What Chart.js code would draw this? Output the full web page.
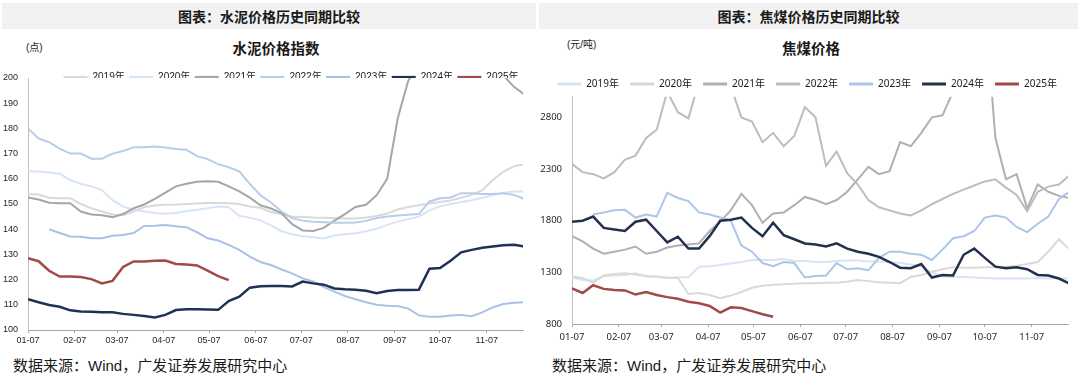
<!DOCTYPE html>
<html>
<head>
<meta charset="utf-8">
<script src="https://cdn.jsdelivr.net/npm/chart.js@4.4.1/dist/chart.umd.min.js"></script>
<style>
  body {
    margin: 0;
    width: 1080px;
    height: 377px;
    background: #fff;
    position: relative;
    overflow: hidden;
    font-family: "Liberation Sans", "Noto Sans CJK SC", sans-serif;
    color: #1a1a1a;
  }
  .band {
    position: absolute;
    top: 3px;
    height: 26px;
    line-height: 26px;
    background: #f2f2f2;
    text-align: center;
    font-family: "Noto Sans CJK SC", sans-serif;
    font-weight: bold;
    font-size: 14px;
  }
  .unit {
    position: absolute;
    font-size: 10px;
    line-height: 12px;
  }
  .subtitle {
    position: absolute;
    width: 200px;
    margin-left: -100px;
    text-align: center;
    font-family: "Noto Sans CJK SC", sans-serif;
    font-weight: bold;
    font-size: 14.5px;
    line-height: 18px;
  }
  .source {
    position: absolute;
    top: 356px;
    font-size: 15px;
    line-height: 19px;
  }
  .panel {
    position: absolute;
    top: 60px;
    height: 290px;
  }
</style>
</head>
<body>

<div class="band" style="left:2px;width:534px;">图表：水泥价格历史同期比较</div>
<div class="band" style="left:539px;width:539px;">图表：焦煤价格历史同期比较</div>

<div class="unit" style="left:26px;top:42px;">(点)</div>
<div class="subtitle" style="left:276px;top:39px;">水泥价格指数</div>
<div class="unit" style="left:567px;top:39px;">(元/吨)</div>
<div class="subtitle" style="left:811px;top:39px;">焦煤价格</div>

<div class="panel" style="left:0;width:536px;"><canvas id="cement" width="536" height="290"></canvas></div>
<div class="panel" style="left:540px;width:540px;"><canvas id="coal" width="540" height="290"></canvas></div>

<div class="source" style="left:13px;">数据来源：Wind，广发证券发展研究中心</div>
<div class="source" style="left:552px;">数据来源：Wind，广发证券发展研究中心</div>

<script>
  // One value every 7 days, day 0 = 01-07.
  var dayStep = 7;
  var lastDay = 328;

  var tickDays = [0, 31, 59, 90, 120, 151, 181, 212, 243, 273, 304];
  var tickLabels = ['01-07', '02-07', '03-07', '04-07', '05-07', '06-07',
    '07-07', '08-07', '09-07', '10-07', '11-07'];
  var years = ['2019年', '2020年', '2021年', '2022年', '2023年', '2024年', '2025年'];

  // 水泥价格指数 (点).
  var cementTicks = [100, 110, 120, 130, 140, 150, 160, 170, 180, 190, 200];
  var cement2019 = [154, 153.8, 152.5, 152.3, 152.3, 150, 148.3, 147, 145.8, 145.5, 147, 148.8, 149.4, 149.7, 149.8, 150, 150.2, 150.4, 150.4, 150.3, 150, 149, 148.5, 146.8, 145.8, 145, 144.8, 144.6, 144.5, 144.4, 144.2, 144.2, 144.6, 145.2, 146.2, 147.8, 148.8, 149.5, 150.2, 150.8, 151.4, 152.5, 153.6, 155.5, 159.5, 162.8, 165, 165.8];
  var cement2020 = [163, 162.9, 162.5, 162, 159.5, 158, 157, 155.5, 151.5, 149, 147.7, 147, 146.4, 146.1, 146.4, 147.2, 147.7, 148.3, 149, 148.7, 145.3, 144.6, 143.5, 141.5, 139.2, 138, 137.2, 136.8, 136.3, 137.5, 138, 138.4, 139.2, 140.2, 141.7, 143, 144, 145, 147.5, 149, 150, 150.8, 151.5, 152.5, 153.6, 154.4, 155, 155];
  var cement2021 = [152.6, 151.8, 150.5, 150.3, 150.3, 147, 145.8, 145.5, 144.8, 146, 148.3, 149.8, 152, 154.5, 157, 158, 158.8, 159, 158.8, 157, 155, 152.5, 149.5, 148.2, 146.4, 142, 139.5, 139.3, 140.5, 143.4, 146, 148.8, 149.7, 153.5, 160, 184, 199, 205, 215, 224, 228, 226, 220, 214, 208, 201, 196.5, 193.4];
  var cement2022 = [180, 176, 174.5, 172, 170, 170, 168, 168, 170, 171, 172.5, 172.5, 172.8, 172.4, 171.8, 171.5, 169, 167.8, 165.8, 164.6, 163, 158, 153.5, 150.6, 147, 144.4, 143.4, 143, 142.8, 142.6, 142.6, 142.7, 143.3, 144.4, 145, 145.4, 145.7, 146, 151, 152.3, 152.6, 154.3, 154.3, 154, 154, 154.3, 153.6, 152];
  var cement2023 = [null, null, 140, 138.5, 137.1, 137, 136.4, 136.4, 137.4, 137.7, 138.5, 141.3, 141.4, 141.7, 141.2, 140.8, 138.8, 136.4, 135.5, 133.8, 131.8, 129.1, 127, 125.8, 124, 122.5, 120.5, 119.3, 117, 115.2, 113.5, 112.2, 111, 110, 109.6, 109.5, 108.5, 105.8, 105.3, 105.3, 105.8, 106, 105.5, 107, 109, 110.3, 110.8, 111];
  var cement2024 = [112.2, 111, 109.9, 109.2, 107.8, 107.3, 107.2, 107, 107, 106.4, 106, 105.6, 105, 106, 107.9, 108.2, 108.2, 108.1, 108, 111.5, 113.2, 116.8, 117.4, 117.5, 117.5, 117.3, 119.2, 118.5, 118, 116.5, 116.2, 116, 115.6, 114.6, 115.5, 115.9, 115.9, 116, 124.3, 124.6, 127.5, 130.8, 131.8, 132.6, 133.1, 133.6, 133.8, 133.1];
  var cement2025 = [128.5, 127.3, 123.5, 121.2, 121.2, 121, 120.2, 118.5, 119.5, 125, 127.2, 127.2, 127.5, 127.6, 126.2, 126, 125.6, 123.6, 121.4, 119.8];

  // 焦煤价格 (元/吨).
  var coalTicks = [800, 1300, 1800, 2300, 2800];
  var coal2019 = [1250, 1225, 1220, 1265, 1270, 1275, 1290, 1260, 1255, 1245, 1250, 1255, 1355, 1360, 1370, 1385, 1400, 1420, 1420, 1420, 1430, 1410, 1410, 1400, 1400, 1410, 1415, 1415, 1405, 1405, 1400, 1390, 1375, 1360, 1300, 1260, 1255, 1255, 1250, 1245, 1240, 1240, 1240, 1240, 1245, 1240, 1240, 1240];
  var coal2020 = [1260, 1245, 1200, 1270, 1285, 1290, 1280, 1265, 1260, 1250, 1245, 1090, 1100, 1080, 1050, 1075, 1110, 1150, 1170, 1180, 1185, 1190, 1195, 1195, 1200, 1200, 1210, 1225, 1215, 1205, 1200, 1195, 1255, 1275, 1305, 1330, 1350, 1345, 1345, 1350, 1350, 1355, 1365, 1380, 1400, 1500, 1620, 1520];
  var coal2021 = [1650, 1600, 1530, 1480, 1500, 1520, 1550, 1480, 1500, 1540, 1560, 1570, 1580, 1700, 1790, 1900, 2060, 1950, 1780, 1870, 1880, 1950, 2030, 2000, 1960, 2000, 2080, 2200, 2320, 2250, 2280, 2560, 2520, 2650, 2800, 2820, 3050, 3400, 3800, 3900, 2600, 2200, 2250, 1920, 2150, 2080, 2040, 2020];
  var coal2022 = [2350, 2270, 2250, 2210, 2270, 2390, 2430, 2600, 2680, 3050, 2850, 2790, 3150, 3250, 3200, 3100, 2800, 2760, 2560, 2650, 2520, 2620, 2900, 2800, 2330, 2470, 2260, 2150, 2000, 1930, 1900, 1870, 1850, 1900, 1960, 2010, 2060, 2100, 2140, 2180, 2200, 2120, 2050, 1890, 2080, 2130, 2150, 2240];
  var coal2023 = [null, null, 1860, 1880, 1900, 1905, 1830, 1860, 1840, 2070, 2020, 1990, 1880, 1860, 1830, 1800, 1560, 1500, 1390, 1360, 1400, 1390, 1250, 1265, 1270, 1390, 1330, 1340, 1320, 1440, 1500, 1500, 1480, 1470, 1420, 1520, 1630, 1650, 1700, 1830, 1850, 1830, 1740, 1690, 1770, 1840, 2010, 2080];
  var coal2024 = [1790, 1800, 1840, 1730, 1715, 1700, 1790, 1810, 1700, 1590, 1645, 1530, 1530, 1650, 1800, 1810, 1830, 1730, 1650, 1780, 1660, 1620, 1580, 1570, 1550, 1580, 1530, 1500, 1480, 1450, 1400, 1345, 1340, 1380, 1250, 1275, 1270, 1470, 1530, 1440, 1355, 1340, 1350, 1330, 1275, 1270, 1240, 1190];
  var coal2025 = [1145, 1100, 1175, 1140, 1130, 1125, 1085, 1110, 1080, 1060, 1045, 1015, 1000, 975, 910, 962, 955, 925, 895, 870];

  var cementColors = ['#d9d9d9', '#d6e4f6', '#a6a6a6', '#b7cdea', '#a9c2e6', '#1f3256', '#a24a45'];
  var coalColors = ['#d6e4f6', '#d9d9d9', '#b0b0b0', '#bdbdbd', '#adc5e8', '#23314d', '#a24a45'];

  /**
   * Squeeze the legend box so the plot can start right under the labels.
   */
  var legendHeight = {
    id: 'legendHeight',
    afterInit: function (chart, args, opts) {
      var legend = chart.legend;
      var fit = legend.fit;
      legend.fit = function () {
        fit.call(this);
        this.height = opts.height;
      };
    }
  };

  function toPoints(values) {
    return values.map(function (v, i) {
      return {x: i * dayStep, y: v};
    });
  }

  function buildDatasets(series, colors) {
    return series.map(function (values, i) {
      var dark = i >= 5;
      return {
        label: years[i],
        data: toPoints(values),
        borderColor: colors[i],
        backgroundColor: colors[i],
        borderWidth: dark ? 2.5 : 2,
        pointRadius: 0,
        tension: 0,
        // Later years sit on top.
        order: series.length - i
      };
    });
  }

  function legendLabels(chart) {
    var items = Chart.defaults.plugins.legend.labels.generateLabels(chart);
    items.forEach(function (item) {
      item.lineWidth = 3;
    });
    return items;
  }

  function buildChart(id, series, colors, cfg) {
    return new Chart(document.getElementById(id), {
      type: 'line',
      data: {datasets: buildDatasets(series, colors)},
      plugins: [legendHeight],
      options: {
        responsive: false,
        animation: false,
        events: [],
        devicePixelRatio: 1,
        layout: {padding: cfg.padding},
        plugins: {
          tooltip: {enabled: false},
          legendHeight: {height: cfg.legendHeight},
          legend: {
            position: 'top',
            align: 'end',
            labels: {
              usePointStyle: true,
              pointStyle: 'line',
              pointStyleWidth: 24,
              boxHeight: 10,
              padding: cfg.legendGap,
              color: '#1a1a1a',
              font: {family: cfg.font, size: 10},
              generateLabels: legendLabels,
              sort: function (a, b) {
                return a.datasetIndex - b.datasetIndex;
              }
            }
          }
        },
        scales: {
          x: {
            type: 'linear',
            min: 0,
            max: lastDay,
            afterFit: function (scale) {
              scale.height = cfg.xHeight;
            },
            afterBuildTicks: function (scale) {
              scale.ticks = tickDays.map(function (d) {
                return {value: d};
              });
            },
            grid: {
              display: true,
              drawOnChartArea: false,
              drawTicks: true,
              tickLength: 3,
              color: '#a6a6a6'
            },
            border: {display: true, color: '#a6a6a6'},
            ticks: {
              autoSkip: false,
              maxRotation: 0,
              minRotation: 0,
              padding: cfg.xPad,
              color: '#262626',
              font: {family: cfg.font, size: cfg.tickSize},
              callback: function (value) {
                var k = tickDays.indexOf(value);
                return k >= 0 ? tickLabels[k] : '';
              }
            }
          },
          y: {
            min: cfg.yTicks[0],
            max: cfg.yMax,
            afterFit: function (scale) {
              scale.width = cfg.yWidth;
            },
            afterBuildTicks: function (scale) {
              scale.ticks = cfg.yTicks.map(function (v) {
                return {value: v};
              });
            },
            grid: {display: false, drawTicks: false},
            border: {display: true, color: '#bfbfbf'},
            ticks: {
              padding: 10,
              color: '#262626',
              font: {family: cfg.font, size: cfg.tickSize},
              callback: function (value) {
                return String(value);
              }
            }
          }
        }
      }
    });
  }

  buildChart('cement',
    [cement2019, cement2020, cement2021, cement2022, cement2023, cement2024, cement2025],
    cementColors, {
      font: '"Liberation Sans", "Noto Sans CJK SC", sans-serif',
      tickSize: 9,
      padding: {top: 8, left: 0, right: 13, bottom: 0},
      legendHeight: 10,
      legendGap: 4.4,
      xHeight: 20,
      xPad: 2.5,
      yWidth: 28,
      yTicks: cementTicks,
      yMax: 200
    });

  buildChart('coal',
    [coal2019, coal2020, coal2021, coal2022, coal2023, coal2024, coal2025],
    coalColors, {
      font: '"Noto Sans", "Noto Sans CJK SC", sans-serif',
      tickSize: 9.5,
      padding: {top: 8, left: 0, right: 12, bottom: 0},
      legendHeight: 28.7,
      legendGap: 11.1,
      xHeight: 26,
      xPad: 4.8,
      yWidth: 32,
      yTicks: coalTicks,
      yMax: 3000
    });
</script>
</body>
</html>
